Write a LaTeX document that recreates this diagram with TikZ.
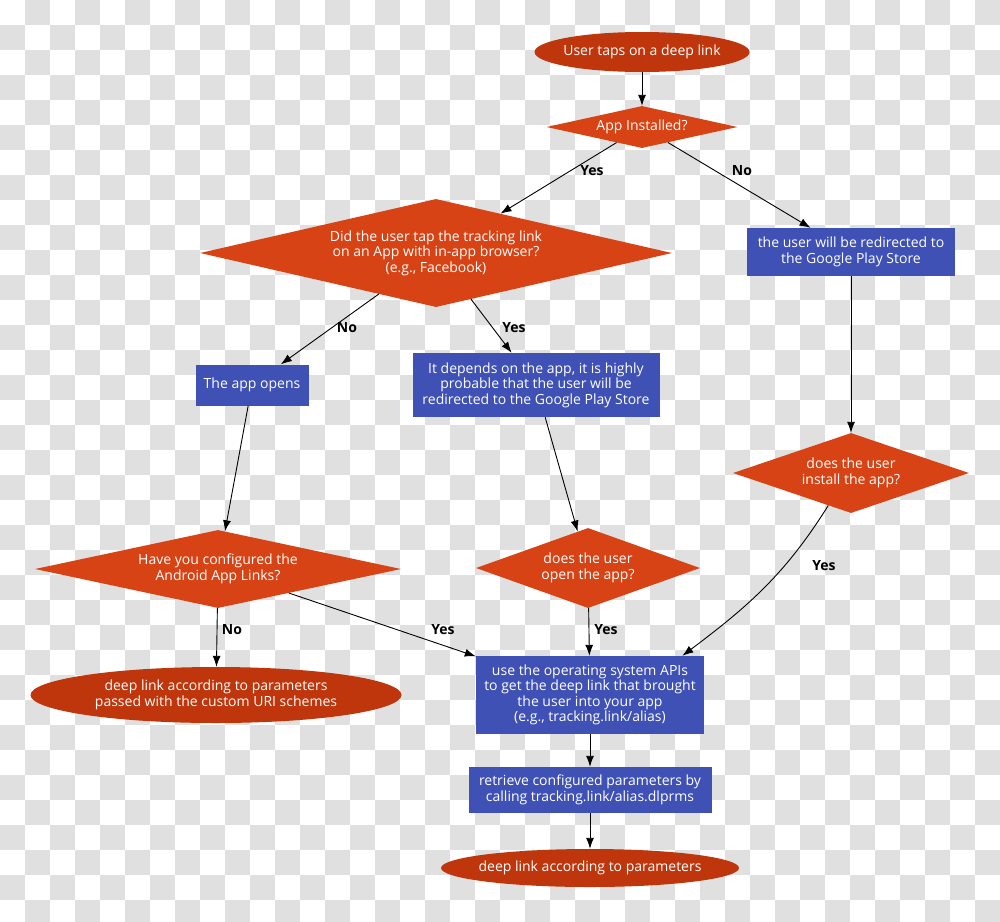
\documentclass[tikz,border=0pt]{standalone}
\usepackage{fontspec}
\setmainfont{Open Sans}
\usepackage{xcolor}
\usepackage{tikz}
\usetikzlibrary{shapes.geometric, positioning, arrows.meta}

\definecolor{termred}{HTML}{BF360C}
\definecolor{decorange}{HTML}{D84315}
\definecolor{procblue}{HTML}{3F51B5}
\definecolor{checkgray}{HTML}{E0E0E0}

\begin{document}
\begin{tikzpicture}[>={Latex[length=11pt, width=8pt]}, x=1pt, y=-1pt,
    font=\fontsize{14}{15.5}\selectfont,
    term/.style={ellipse, fill=termred, text=white, align=center, inner xsep=-7pt, inner ysep=0pt},
    decision/.style={diamond, fill=decorange, text=white, align=center, inner sep=0pt},
    proc/.style={rectangle, fill=procblue, text=white, align=center, inner sep=0pt},
    lbl/.style={font=\fontsize{14}{15}\selectfont\bfseries, text=black},
    flow/.style={->, line width=0.9pt}]
    % 1. Nen ca ro
    \useasboundingbox (0,0) rectangle (1000,921);
    \begin{scope}
        \clip (0,0) rectangle (1000,921);
        \fill[white] (0,0) rectangle (1000,921);
        \foreach \i in {0,...,39}
            \foreach \j in {0,...,36} {
                \pgfmathparse{int(mod(\i+\j,2))}
                \ifnum\pgfmathresult=1
                    \fill[checkgray] (25*\i,25*\j) rectangle ++(25,25);
                \fi
            }
    \end{scope}

    % 2. Cac nut
    \node[term, minimum width=215, minimum height=40] (start) at (642,52) {User taps on a deep link};
    \node[decision, aspect=4.6, minimum width=191, minimum height=42] (inst) at (642,127) {App Installed?};
    \node[decision, aspect=4.4, minimum width=472, minimum height=108] (inapp) at (436,253)
        {Did the user tap the tracking link\\ on an App with in-app browser?\\ (e.g., Facebook)};
    \node[proc, minimum width=208, minimum height=48] (store) at (851,252)
        {the user will be redirected to\\ the Google Play Store};
    \node[proc, minimum width=113, minimum height=41] (opens) at (252,385) {The app opens};
    \node[proc, minimum width=247, minimum height=64] (depends) at (536,385)
        {It depends on the app, it is highly\\ probable that the user will be\\ redirected to the Google Play Store};
    \node[decision, aspect=2.95, minimum width=236, minimum height=80] (install) at (851,473)
        {does the user\\ install the app?};
    \node[decision, aspect=4.7, minimum width=366, minimum height=78] (links) at (218,569)
        {Have you configured the\\ Android App Links?};
    \node[decision, aspect=2.8, minimum width=224, minimum height=80] (openapp) at (588,568)
        {does the user\\ open the app?};
    \node[term, minimum width=371, minimum height=56] (custom) at (216,695)
        {deep link according to parameters\\ passed with the custom URI schemes};
    \node[proc, minimum width=228, minimum height=78] (apis) at (590,695)
        {use the operating system APIs\\ to get the deep link that brought\\ the user into your app\\ (e.g., tracking.link/alias)};
    \node[proc, minimum width=243, minimum height=46] (params) at (590,790)
        {retrieve configured parameters by\\ calling tracking.link/alias.dlprms};
    \node[term, minimum width=298, minimum height=38] (final) at (590,868) {deep link according to parameters};

    % 3. Cac mui ten
    \draw[flow] (start) -- (inst);
    \draw[flow] (inst) -- (inapp);
    \draw[flow] (inst) -- (store);
    \draw[flow] (inapp) -- (opens);
    \draw[flow] (inapp) -- (depends);
    \draw[flow] (opens) -- (links);
    \draw[flow] (depends) -- (openapp);
    \draw[flow] (store) -- (install);
    \draw[flow] (install.-125) to[out=-122, in=37] (apis.23);
    \draw[flow] (links) -- (apis);
    \draw[flow] (openapp) -- (apis);
    \draw[flow] (links) -- (custom);
    \draw[flow] (apis) -- (params);
    \draw[flow] (params) -- (final);

    % 4. Nhan
    \node[lbl] (yes1) at (592,171) {Yes};
    \node[lbl] (no1) at (742,171) {No};
    \node[lbl] (no2) at (347,328) {No};
    \node[lbl] (yes2) at (514,328) {Yes};
    \node[lbl] (yes3) at (824,566) {Yes};
    \node[lbl] (no3) at (232,630) {No};
    \node[lbl] (yes4) at (443,630) {Yes};
    \node[lbl] (yes5) at (606,630) {Yes};
\end{tikzpicture}
\end{document}
